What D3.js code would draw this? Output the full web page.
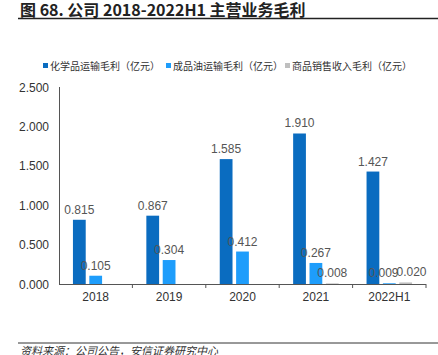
<!DOCTYPE html>
<html><head><meta charset="utf-8">
<script src="https://cdn.jsdelivr.net/npm/d3@7"></script>
<style>body{margin:0;background:#fff}svg{display:block}</style>
</head><body>
<script>
const categories = ["2018","2019","2020","2021","2022H1"];
const seriesNames = ["化学品运输毛利（亿元）","成品油运输毛利（亿元）","商品销售收入毛利（亿元）"];
const chemical = [0.815,0.867,1.585,1.910,1.427];
const oil = [0.105,0.304,0.412,0.267,0.009];
const sales = [null,null,null,0.008,0.020];
const yTicks = [0,0.5,1.0,1.5,2.0,2.5];
const colors = ["#0a6cc0","#1e9dfb","#bfbfbf"];

const W=438,H=355;
const svg=d3.select("body").append("svg").attr("width",W).attr("height",H);
const font="Liberation Sans, Arial, sans-serif";
const cjk="'Noto Sans CJK SC', sans-serif";

// title
svg.append("text").attr("x",20).attr("y",15.5).attr("font-family",cjk).attr("font-weight","bold")
  .attr("font-size",16).attr("fill","#222").text("图 68. 公司 2018-2022H1 主营业务毛利");
svg.append("line").attr("x1",18).attr("x2",438).attr("y1",18.5).attr("y2",18.5).attr("stroke","#222").attr("stroke-width",1.5);

// footer
svg.append("line").attr("x1",18).attr("x2",438).attr("y1",343).attr("y2",343).attr("stroke","#333").attr("stroke-width",1);
svg.append("text").attr("x",20).attr("y",355).attr("font-family",cjk).attr("font-style","italic")
  .attr("font-size",11).attr("fill","#333").text("资料来源：公司公告，安信证券研究中心");

// legend
const legX=[43,166,285];
seriesNames.forEach((n,i)=>{
  const g=svg.append("g").attr("transform",`translate(${legX[i]},66)`);
  g.append("rect").attr("x",0).attr("y",-3).attr("width",5).attr("height",5).attr("fill",colors[i]);
  g.append("text").attr("x",7).attr("y",3.5).attr("font-family",cjk).attr("font-size",10).attr("fill","#333").text(n);
});

const y=d3.scaleLinear().domain([0,2.5]).range([284,87]);
const x0=d3.scaleBand().domain(categories).range([59,426]).padding(0);
const bw=x0.bandwidth();
const x1=d3.scaleBand().domain([0,1,2]).range([bw*0.19,bw*0.81]).paddingInner(0.22).paddingOuter(0);

// y axis labels
svg.append("g").selectAll("text").data(yTicks).join("text")
  .attr("x",49).attr("y",d=>y(d)+4.5).attr("text-anchor","end")
  .attr("font-family",font).attr("font-size",12).attr("fill","#333")
  .text(d=>d3.format(".3f")(d));

const series=[chemical,oil,sales];
categories.forEach((c,ci)=>{
  const g=svg.append("g").attr("transform",`translate(${x0(c)},0)`);
  const labels=[];
  series.forEach((s,si)=>{
    const v=s[ci];
    if(v==null) return;
    g.append("rect").attr("x",x1(si)).attr("y",y(v)).attr("width",x1.bandwidth())
      .attr("height",Math.max(0,y(0)-y(v))).attr("fill",colors[si]);
    labels.push({cx:x1(si)+x1.bandwidth()/2,y:y(v)-6,v});
  });
  // nudge overlapping labels apart
  for(let k=1;k<labels.length;k++){
    const a=labels[k-1],b=labels[k];
    if(Math.abs(a.y-b.y)<12){
      const need=28-(b.cx-a.cx);
      if(need>0){a.cx-=need/2;b.cx+=need/2;}
    }
  }
  labels.forEach(l=>{
    g.append("text").attr("x",l.cx).attr("y",l.y).attr("text-anchor","middle")
      .attr("font-family",font).attr("font-size",12).attr("fill","#555").text(d3.format(".3f")(l.v));
  });
});

// axes lines
svg.append("line").attr("x1",59.5).attr("x2",59.5).attr("y1",87).attr("y2",284).attr("stroke","#555").attr("stroke-width",1);
svg.append("line").attr("x1",59).attr("x2",426).attr("y1",284.5).attr("y2",284.5).attr("stroke","#555").attr("stroke-width",1);
categories.forEach(c=>{
  const xr=x0(c)+bw;
  svg.append("line").attr("x1",xr).attr("x2",xr).attr("y1",284).attr("y2",288).attr("stroke","#555");
});
svg.append("g").selectAll("text").data(categories).join("text")
  .attr("x",d=>x0(d)+bw/2).attr("y",301).attr("text-anchor","middle")
  .attr("font-family",font).attr("font-size",12).attr("fill","#333").text(d=>d);
</script>
</body></html>
